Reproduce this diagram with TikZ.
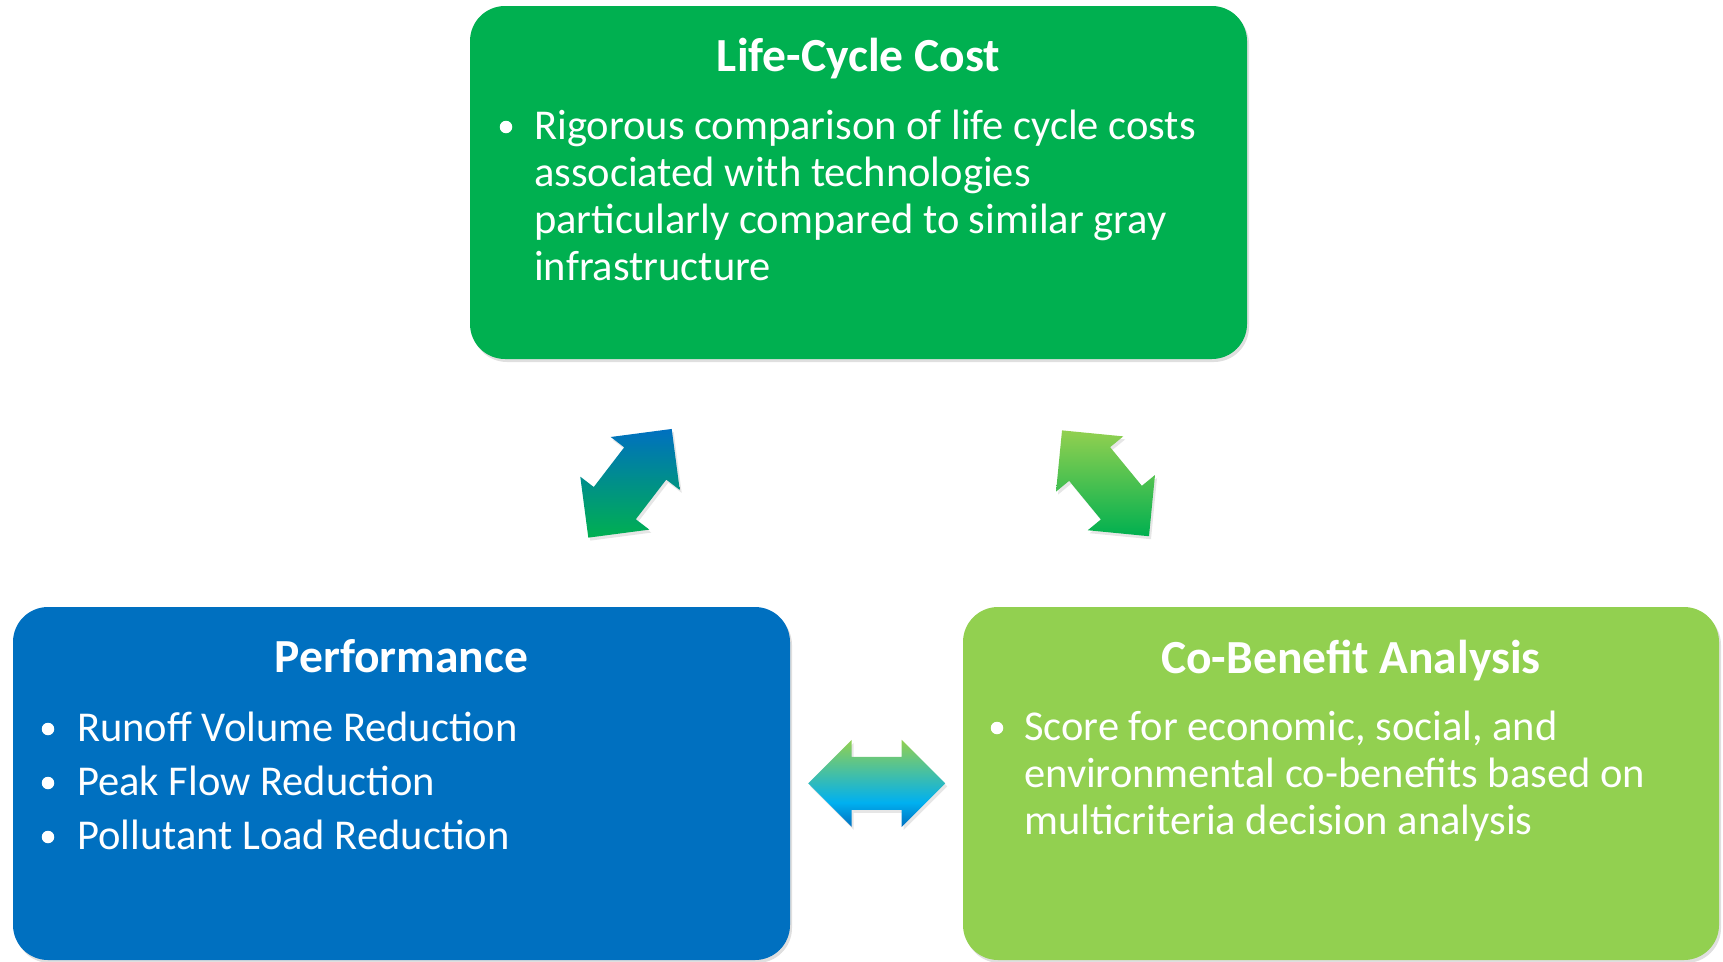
\documentclass[tikz,border=0pt]{standalone}
\usepackage{fontspec}
\setmainfont{Carlito}
\usetikzlibrary{shadows}

\definecolor{lccgreen}{HTML}{00B050}
\definecolor{perfblue}{HTML}{0070C0}
\definecolor{cobgreen}{HTML}{92D050}
\definecolor{skyblue}{HTML}{00B0F0}

% green on top, sky blue lower down, dark blue at the bottom
\pgfdeclareverticalshading{skyfade}{100bp}{color(0bp)=(perfblue); color(25bp)=(perfblue); color(39bp)=(skyblue); color(75bp)=(cobgreen); color(100bp)=(cobgreen)}

% double block arrow, lying along the x axis
\newcommand{\dblarrow}{(68.5,0) -- (25,43.5) -- (25,26.5) -- (-25,26.5) -- (-25,43.5) -- (-68.5,0) -- (-25,-43.5) -- (-25,-26.5) -- (25,-26.5) -- (25,-43.5) -- cycle}

\begin{document}
\begin{tikzpicture}[
        x=1pt, y=-1pt,
        box/.style={rounded corners=35pt, minimum width=777pt, minimum height=353pt, drop shadow={opacity=0.25, shadow xshift=2pt, shadow yshift=-3pt}},
        title/.style={text=white, anchor=base, font=\fontsize{47.5}{56}\selectfont\bfseries},
        % base of a multi-line body is its last line
        body/.style={text=white, anchor=base west, align=left, inner sep=0pt, font=\fontsize{42.5}{47}\selectfont},
        dot/.style={circle, fill=white, inner sep=0pt, minimum size=12.5pt},
        arrowshade/.style={drop shadow={opacity=0.2, shadow xshift=2pt, shadow yshift=-3pt}}
        ]
    \useasboundingbox (0,0) rectangle (1723,961);

    \node[box, fill=lccgreen] (lcc) at (858.5,182.5) {};
    \node[box, fill=perfblue] (perf) at (401.5,783.5) {};
    \node[box, fill=cobgreen, minimum width=756pt] (cob) at (1341,783.5) {};

    \node[title] (lcctitle) at (858.5,71) {Life-Cycle Cost};
    \node[title] (perftitle) at (401.5,672) {Performance};
    \node[title] (cobtitle) at (1351,673) {Co-Benefit Analysis};

    \node[dot] (lccdot) at (506,127) {};
    \node[body] (lcctext) at (534,280) {Rigorous comparison of life cycle costs\\associated with technologies\\particularly compared to similar gray\\infrastructure};

    \foreach \txt [count=\i] in {Runoff Volume Reduction, Peak Flow Reduction, Pollutant Load Reduction} {
        \node[dot] (perfdot\i) at (48,{675+54*\i}) {};
        \node[body] (perftext\i) at (77,{687+54*\i}) {\txt};
    }

    \node[dot] (cobdot) at (997,728) {};
    \node[body] (cobtext) at (1024,834) {Score for economic, social, and\\environmental co-benefits based on\\multicriteria decision analysis};

    % arrows between the three boxes
    \shade[arrowshade, top color=perfblue, middle color=lccgreen!75!perfblue, bottom color=lccgreen, shift={(630,483.3)}, rotate=52.5] \dblarrow;
    \shade[arrowshade, top color=cobgreen, bottom color=lccgreen, shift={(1105.5,483.3)}, rotate=-50.6] \dblarrow;
    \shade[arrowshade, shading=skyfade, shift={(876.7,783.3)}] \dblarrow;
\end{tikzpicture}
\end{document}
